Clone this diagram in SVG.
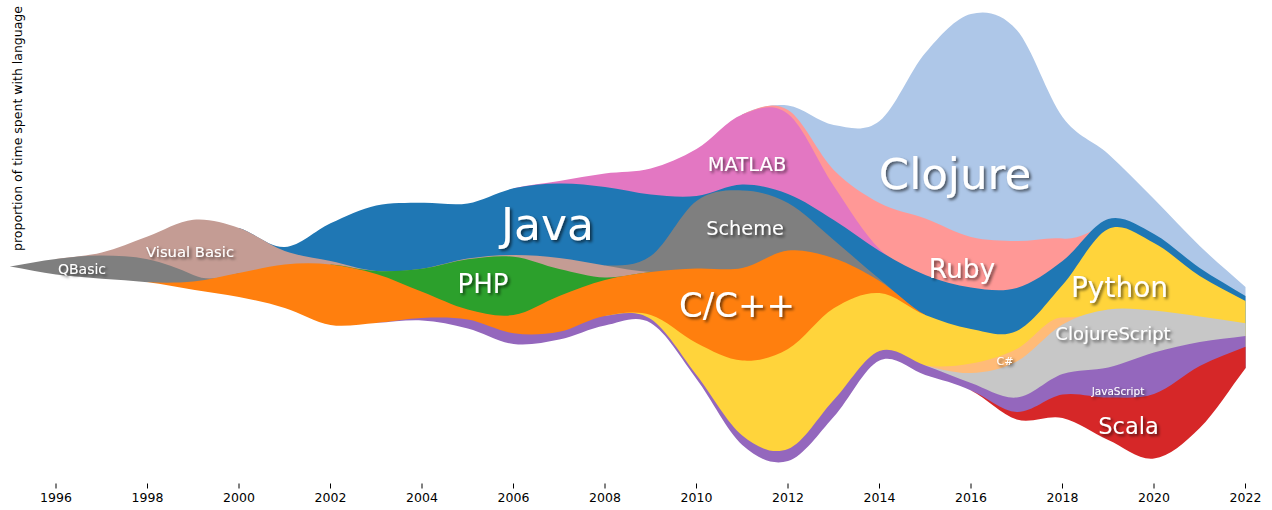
<svg xmlns="http://www.w3.org/2000/svg" width="1272" height="510" viewBox="0 0 1272 510">
<defs>
<filter id="sh" x="-10%" y="-25%" width="130%" height="170%">
<feDropShadow dx="2" dy="2" stdDeviation="1.7" flood-color="#000" flood-opacity="0.6"/>
</filter>
<style>
.lbl{font-family:"DejaVu Sans","Liberation Sans",sans-serif;fill:#fff;text-anchor:middle;filter:url(#sh)}
.tick{stroke:#000;stroke-width:1}
.tl{font-family:"DejaVu Sans","Liberation Sans",sans-serif;font-size:12.5px;fill:#000;text-anchor:middle}
</style>
</defs>
<rect width="1272" height="510" fill="#fff"/>
<g id="streams">
<path id="clojure" fill="#aec7e8" d="M 742.25 114.5 C 757.5 107.25 772.75 103.75 788 105.5 S 818.5 122.42 833.75 125 S 864.25 133 879.5 121 S 910 70.83 925.25 53 S 955.75 17.83 971 14 S 1001.5 12.83 1016.75 30 S 1047.25 96.33 1062.5 117 S 1093 140.33 1108.25 154 S 1138.75 183.67 1154 199 S 1184.5 231.33 1199.75 246 S 1230.25 273.33 1245.5 287 L 1245.5 482 L 742.25 482 Z"/>
<path id="ruby" fill="#ff9896" d="M 742.25 114.5 C 757.5 108 772.75 100.75 788 110 S 818.5 154.5 833.75 170 S 864.25 194.92 879.5 203 S 910 212.83 925.25 218.5 S 955.75 233.25 971 237 S 1001.5 240.75 1016.75 241 S 1047.25 237 1062.5 238.5 S 1093 232 1108.25 219 L 1108.25 482 L 742.25 482 Z"/>
<path id="matlab" fill="#e377c2" d="M 513.5 188.3 C 528.75 184.57 544 183.47 559.25 181 S 589.75 175.58 605 173.5 S 635.5 172.58 650.75 168.5 S 681.25 158 696.5 149 S 727 120.33 742.25 114.5 S 772.75 102.08 788 114 S 818.5 163.5 833.75 186 S 864.25 234.17 879.5 249 S 910 268.58 925.25 275 L 925.25 482 L 513.5 482 Z"/>
<path id="java" fill="#1f77b4" d="M 239 228 C 254.25 232.53 269.5 247.78 284.75 247 S 315.25 230.22 330.5 223.3 S 361 208.93 376.25 205.5 S 406.75 203.05 422 202.7 S 452.5 205.8 467.75 203.4 S 498.25 191.62 513.5 188.3 S 544 183.72 559.25 183.5 S 589.75 185.17 605 187 S 635.5 193 650.75 194.5 S 681.25 197.67 696.5 196 S 727 184.83 742.25 184.5 S 772.75 188.08 788 194 S 818.5 210.5 833.75 220 S 864.25 241.83 879.5 251 S 910 268.92 925.25 275 S 955.75 285.33 971 287.5 S 1001.5 292.42 1016.75 288 S 1047.25 272.5 1062.5 261 S 1093 223.5 1108.25 219 S 1138.75 225.83 1154 234 S 1184.5 257.67 1199.75 268 S 1230.25 286.67 1245.5 296 L 1245.5 482 L 239 482 Z"/>
<path id="scheme" fill="#7f7f7f" d="M 605 265.5 C 620.25 265.17 635.5 266.75 650.75 256 S 681.25 211.93 696.5 201 S 727 190.07 742.25 190.4 S 772.75 194.73 788 203 S 818.5 227.33 833.75 240 S 864.25 266.5 879.5 279 S 910 306.67 925.25 315 L 925.25 482 L 605 482 Z"/>
<path id="visual-basic" fill="#c49c94" d="M 56 259 C 71.25 256.67 86.5 256.25 101.75 252.5 S 132.25 241.95 147.5 236.5 S 178 221.22 193.25 219.8 S 223.75 222.8 239 228 S 269.5 245.5 284.75 251 S 315.25 257.67 330.5 261 S 361 269.72 376.25 271 S 406.75 270.77 422 268.7 S 452.5 260.88 467.75 258.6 S 498.25 255.1 513.5 255 S 544 256.25 559.25 258 S 589.75 263.17 605 265.5 S 635.5 271.5 650.75 272 L 650.75 482 L 56 482 Z"/>
<path id="qbasic" fill="#7f7f7f" d="M 10.25 266.5 C 25.5 264 40.75 260.83 56 259 S 86.5 255.45 101.75 255.5 S 132.25 256.05 147.5 259.3 S 178 268 193.25 275 S 223.75 277 239 273 L 239 482 L 10.25 482 Z"/>
<path id="php" fill="#2ca02c" d="M 330.5 264.5 C 345.75 265.58 361 270.3 376.25 271 S 406.75 270.65 422 268.7 S 452.5 261.3 467.75 259.3 S 498.25 255.08 513.5 256.7 S 544 265.53 559.25 269 S 589.75 277 605 277.5 S 635.5 273.5 650.75 272 L 650.75 482 L 330.5 482 Z"/>
<path id="c-cpp" fill="#ff7f0e" d="M 147.5 282.3 C 162.75 282.77 178 283.05 193.25 281.5 S 223.75 275.83 239 273 S 269.5 265.92 284.75 264.5 S 315.25 262.92 330.5 264.5 S 361 269.45 376.25 274 S 406.75 285.88 422 291.8 S 452.5 305.63 467.75 309.5 S 498.25 317.25 513.5 315 S 544 301.83 559.25 296 S 589.75 284 605 280 S 635.5 273.92 650.75 272 S 681.25 269.17 696.5 268.5 S 727 271 742.25 268 S 772.75 252.12 788 250.5 S 818.5 253.22 833.75 258.3 S 864.25 271.55 879.5 281 S 910 307 925.25 315 L 925.25 482 L 147.5 482 Z"/>
<path id="python" fill="#ffd43b" d="M 605 316 C 620.25 313.2 635.5 310.5 650.75 315 S 681.25 335.4 696.5 343 S 727 359.6 742.25 360.6 S 772.75 357.72 788 349 S 818.5 317.63 833.75 308.3 S 864.25 291.88 879.5 293 S 910 309 925.25 315 S 955.75 326.33 971 329 S 1001.5 338.33 1016.75 331 S 1047.25 302 1062.5 285 S 1093 236 1108.25 229 S 1138.75 235.17 1154 243 S 1184.5 266.33 1199.75 276 S 1230.25 292.67 1245.5 301 L 1245.5 482 L 605 482 Z"/>
<path id="csharp" fill="#ffbb78" d="M 925.25 365.5 C 940.5 367.58 955.75 366.25 971 363.5 S 1001.5 356.67 1016.75 349 S 1047.25 317 1062.5 317.5 S 1093 314 1108.25 309.5 L 1108.25 482 L 925.25 482 Z"/>
<path id="clojurescript" fill="#c7c7c7" d="M 925.25 365.5 C 940.5 369.17 955.75 373.67 971 373 S 1001.5 369.58 1016.75 361.5 S 1047.25 333.17 1062.5 324.5 S 1093 311.83 1108.25 309.5 S 1138.75 309.33 1154 310.5 S 1184.5 314.37 1199.75 316.5 S 1230.25 321.03 1245.5 323.3 L 1245.5 482 L 925.25 482 Z"/>
<path id="javascript" fill="#9467bd" d="M 376.25 323 C 391.5 321.83 406.75 318.57 422 318 S 452.5 317.05 467.75 319.6 S 498.25 331.27 513.5 333.3 S 544 334.68 559.25 331.8 S 589.75 318.13 605 316 S 635.5 309.17 650.75 319 S 681.25 355.58 696.5 375 S 727 423.17 742.25 435.5 S 772.75 454.92 788 449 S 818.5 416.33 833.75 400 S 864.25 356.75 879.5 351 S 910 360.17 925.25 365.5 S 955.75 377.67 971 383 S 1001.5 399 1016.75 397.5 S 1047.25 379 1062.5 374 S 1093 371.08 1108.25 367.5 S 1138.75 356.75 1154 352.5 S 1184.5 344.75 1199.75 342 S 1230.25 338 1245.5 336 L 1245.5 482 L 376.25 482 Z"/>
<path id="scala" fill="#d62728" d="M 971 390.5 C 986.25 396.67 1001.5 411.33 1016.75 412 S 1047.25 396.92 1062.5 394.5 S 1093 397.58 1108.25 397.5 S 1138.75 399.25 1154 394 S 1184.5 373.88 1199.75 366 S 1230.25 353.13 1245.5 346.7 L 1245.5 482 L 971 482 Z"/>
<path id="baseline-mask" fill="#fff" d="M 10.25 266.5 C 25.5 269.17 40.75 272.47 56 274.5 S 86.5 277.4 101.75 278.7 S 132.25 280.47 147.5 282.3 S 178 287.25 193.25 289.7 S 223.75 293.95 239 297 S 269.5 303.33 284.75 308 S 315.25 322.5 330.5 325 S 361 323.75 376.25 323 S 406.75 319.6 422 320.5 S 452.5 324.48 467.75 328.4 S 498.25 342.15 513.5 344 S 544 342.58 559.25 339.5 S 589.75 328.25 605 325.5 S 635.5 314.08 650.75 323 S 681.25 358.67 696.5 379 S 727 431.33 742.25 445 S 772.75 465.72 788 461 S 818.5 433.45 833.75 416.7 S 864.25 367.45 879.5 360.5 S 910 370 925.25 375 S 955.75 383.08 971 390.5 S 1001.5 414.92 1016.75 419.5 S 1047.25 414.58 1062.5 418 S 1093 433.25 1108.25 440 S 1138.75 460.5 1154 458.5 S 1184.5 443.03 1199.75 428 S 1230.25 388.2 1245.5 368.3 L 1252 368.3 L 1252 484 L 8 484 L 8 266.5 Z"/>
</g>
<g id="labels">
<text class="lbl" x="82" y="273.5" font-size="14">QBasic</text>
<text class="lbl" x="190" y="257" font-size="14.8">Visual Basic</text>
<text class="lbl" x="547.5" y="240" font-size="44">Java</text>
<text class="lbl" x="483" y="292.5" font-size="26">PHP</text>
<text class="lbl" x="747" y="171" font-size="19.5">MATLAB</text>
<text class="lbl" x="745" y="234.5" font-size="19.3">Scheme</text>
<text class="lbl" x="737" y="316.5" font-size="34">C/C++</text>
<text class="lbl" x="955" y="189" font-size="43.5">Clojure</text>
<text class="lbl" x="962" y="277.5" font-size="26.5">Ruby</text>
<text class="lbl" x="1119.5" y="297" font-size="28">Python</text>
<text class="lbl" x="1113" y="339.5" font-size="18">ClojureScript</text>
<text class="lbl" x="1005" y="365" font-size="11">C#</text>
<text class="lbl" x="1118" y="395" font-size="10.5">JavaScript</text>
<text class="lbl" x="1128.5" y="433.5" font-size="22.5">Scala</text>
</g>
<g id="axis">
<text class="tl" transform="translate(22,128.5) rotate(-90)" x="0" y="0">proportion of time spent with language</text>
<g class="tick">
<line x1="56" y1="483.5" x2="56" y2="488.5"/>
<line x1="147.5" y1="483.5" x2="147.5" y2="488.5"/>
<line x1="239" y1="483.5" x2="239" y2="488.5"/>
<line x1="330.5" y1="483.5" x2="330.5" y2="488.5"/>
<line x1="422" y1="483.5" x2="422" y2="488.5"/>
<line x1="513.5" y1="483.5" x2="513.5" y2="488.5"/>
<line x1="605" y1="483.5" x2="605" y2="488.5"/>
<line x1="696.5" y1="483.5" x2="696.5" y2="488.5"/>
<line x1="788" y1="483.5" x2="788" y2="488.5"/>
<line x1="879.5" y1="483.5" x2="879.5" y2="488.5"/>
<line x1="971" y1="483.5" x2="971" y2="488.5"/>
<line x1="1062.5" y1="483.5" x2="1062.5" y2="488.5"/>
<line x1="1154" y1="483.5" x2="1154" y2="488.5"/>
<line x1="1245.5" y1="483.5" x2="1245.5" y2="488.5"/>
</g>
<text class="tl" x="56" y="502">1996</text>
<text class="tl" x="147.5" y="502">1998</text>
<text class="tl" x="239" y="502">2000</text>
<text class="tl" x="330.5" y="502">2002</text>
<text class="tl" x="422" y="502">2004</text>
<text class="tl" x="513.5" y="502">2006</text>
<text class="tl" x="605" y="502">2008</text>
<text class="tl" x="696.5" y="502">2010</text>
<text class="tl" x="788" y="502">2012</text>
<text class="tl" x="879.5" y="502">2014</text>
<text class="tl" x="971" y="502">2016</text>
<text class="tl" x="1062.5" y="502">2018</text>
<text class="tl" x="1154" y="502">2020</text>
<text class="tl" x="1245.5" y="502">2022</text>
</g>
</svg>
